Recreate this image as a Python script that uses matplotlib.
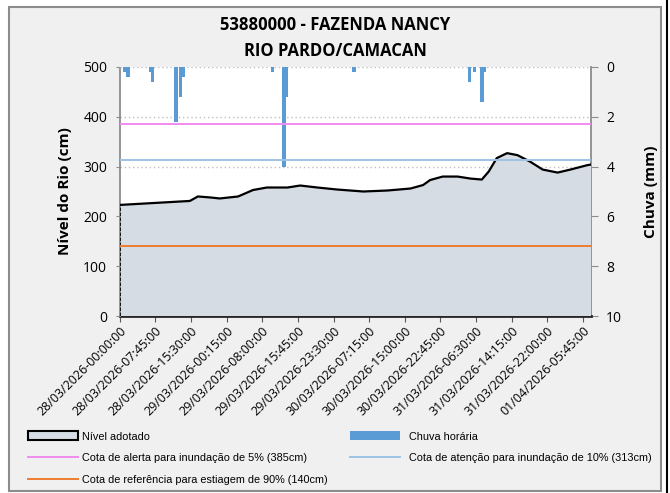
import matplotlib.pyplot as plt
from matplotlib.patches import Rectangle, Patch
from matplotlib.lines import Line2D

titulo = "53880000 - FAZENDA NANCY\nRIO PARDO/CAMACAN"

# posicao na serie de leituras de 15 min e nivel adotado (cm)
indice_nivel = [0, 61, 68, 79, 87, 103, 116, 128, 146, 157, 172,
                189, 212, 233, 253, 264, 270, 281, 294, 305, 315,
                321, 328, 337, 346, 357, 368, 381, 392, 407, 410]
nivel = [223, 231, 240, 238, 236, 240, 253, 258, 258, 262, 258,
         254, 250, 252, 256, 263, 273, 280, 280, 276, 274,
         290, 317, 327, 323, 310, 294, 288, 294, 303, 304]

# chuva horaria (mm)
indice_chuva = [4.2, 7.2, 26.8, 28.5, 49.1, 53.0, 55.6, 133, 143, 145.2, 203.8,
                304.4, 308.8, 315.3, 317]
chuva = [0.2, 0.4, 0.2, 0.6, 2.2, 1.2, 0.4, 0.2, 4.0, 1.2, 0.2,
         0.6, 0.2, 1.4, 0.2]

cota_alerta = 385
cota_atencao = 313
cota_estiagem = 140

# rotulos do eixo x (um a cada 31 leituras)
rotulos = ["28/03/2026-00:00:00", "28/03/2026-07:45:00", "28/03/2026-15:30:00",
           "29/03/2026-00:15:00", "29/03/2026-08:00:00", "29/03/2026-15:45:00",
           "29/03/2026-23:30:00", "30/03/2026-07:15:00", "30/03/2026-15:00:00",
           "30/03/2026-22:45:00", "31/03/2026-06:30:00", "31/03/2026-14:15:00",
           "31/03/2026-22:00:00", "01/04/2026-05:45:00"]
passo = 31
x_fim = 410

fonte = ['Open Sans', 'DejaVu Sans']
plt.rcParams['font.family'] = fonte

fig = plt.figure(figsize=(6.7, 4.93), dpi=100)
W, H = 670.0, 493.0

# fundo cinza com borda
fig.patches.append(Rectangle((9 / W, 1 - 491 / H), (661 - 9) / W, (491 - 7) / H,
                             transform=fig.transFigure, facecolor='#f0f0f0',
                             edgecolor='#8c8c8c', lw=1.5, zorder=-1))
fig.lines.append(Line2D([667 / W, 667 / W], [0, 1], transform=fig.transFigure,
                        color='black', lw=1.5))

left, right, top, bottom = 119.7 / W, 591 / W, 1 - 67 / H, 1 - 316 / H
ax2 = fig.add_axes([left, bottom, right - left, top - bottom])
ax = ax2.twinx()
# eixo do nivel na esquerda
ax.yaxis.tick_left()
ax.yaxis.set_label_position('left')
ax2.yaxis.tick_right()
ax2.yaxis.set_label_position('right')
ax2.set_zorder(1)
ax.set_zorder(2)
ax.patch.set_visible(False)
ax2.set_facecolor('white')

# chuva
ax2.bar(indice_chuva, chuva, width=3, color='#5b9bd5', zorder=2)
ax2.set_ylim(10, 0)
ax2.set_yticks(range(0, 11, 2))
ax2.set_xlim(0, x_fim)

# nivel
ax.fill_between(indice_nivel, nivel, 0, facecolor='#d6dce4', zorder=2)
ax.plot(indice_nivel, nivel, color='black', lw=1.6, zorder=3)
ax.plot([0, 0], [0, nivel[0]], color='black', lw=1.2, ls=(0, (2, 1)), zorder=3)
ax.axhline(cota_alerta, color='#f08cf0', lw=1.4, zorder=4)
ax.axhline(cota_atencao, color='#9dc3e6', lw=1.4, zorder=4)
ax.axhline(cota_estiagem, color='#ed7d31', lw=1.4, zorder=4)
ax.set_ylim(0, 500)
ax.set_yticks(range(0, 501, 100))

for v in range(100, 501, 100):
    ax2.axhline(10 - v / 50, color='#bfbfbf', lw=1, ls=(0, (1, 2)), zorder=1)

ax.spines['top'].set_visible(False)
ax2.spines['top'].set_visible(False)
ax.spines['right'].set_visible(False)
ax2.spines['left'].set_visible(False)
ax.spines['left'].set_color('#8c8c8c')
ax.spines['left'].set_linestyle((0, (1, 1)))
ax.spines['left'].set_linewidth(1.3)
ax2.spines['right'].set_color('#8c8c8c')
ax2.spines['right'].set_linewidth(1.3)
ax.spines['bottom'].set_visible(False)
ax2.spines['bottom'].set_color('#262626')
ax2.spines['bottom'].set_linewidth(2)

ax.tick_params(axis='y', length=3, color='#8c8c8c', labelsize=10, pad=6)
ax2.tick_params(axis='y', length=5, color='#8c8c8c', labelsize=10, pad=6)
ax2.set_xticks([i * passo for i in range(len(rotulos))])
ax2.set_xticklabels(rotulos, rotation=45, ha='right', rotation_mode='anchor', fontsize=9)
ax2.tick_params(axis='x', length=4, color='#595959', pad=2)

ax.set_ylabel("Nível do Rio (cm)", fontsize=11, fontweight='bold', labelpad=8)
ax2.set_ylabel("Chuva (mm)", fontsize=11, fontweight='bold', labelpad=16)

fig.text(335 / W, 1 - 38 / H, titulo, ha='center', va='center', fontsize=12,
         fontweight='bold', linespacing=1.5)

# legendas
fonte_leg = {'family': ['Liberation Sans', 'DejaVu Sans'], 'size': 7.8}
h1 = [Patch(facecolor='#d6dce4', edgecolor='black', lw=1.5),
      Line2D([], [], color='#f08cf0', lw=1.4),
      Line2D([], [], color='#ed7d31', lw=1.4)]
l1 = ["Nível adotado",
      "Cota de alerta para inundação de 5% (385cm)",
      "Cota de referência para estiagem de 90% (140cm)"]
h2 = [Patch(facecolor='#5b9bd5', edgecolor='none'),
      Line2D([], [], color='#9dc3e6', lw=1.4)]
l2 = ["Chuva horária",
      "Cota de atenção para inundação de 10% (313cm)"]
kw = dict(loc='upper left', frameon=False, prop=fonte_leg, handlelength=4.6,
          handleheight=0.9, labelspacing=1.05, handletextpad=0.4, borderaxespad=0)
leg1 = fig.legend(h1, l1, bbox_to_anchor=(24 / W, 1 - 427 / H), **kw)
kw['handletextpad'] = 0.8
leg2 = fig.legend(h2, l2, bbox_to_anchor=(346 / W, 1 - 427 / H), **kw)

fig.savefig("out.png", dpi=100)
